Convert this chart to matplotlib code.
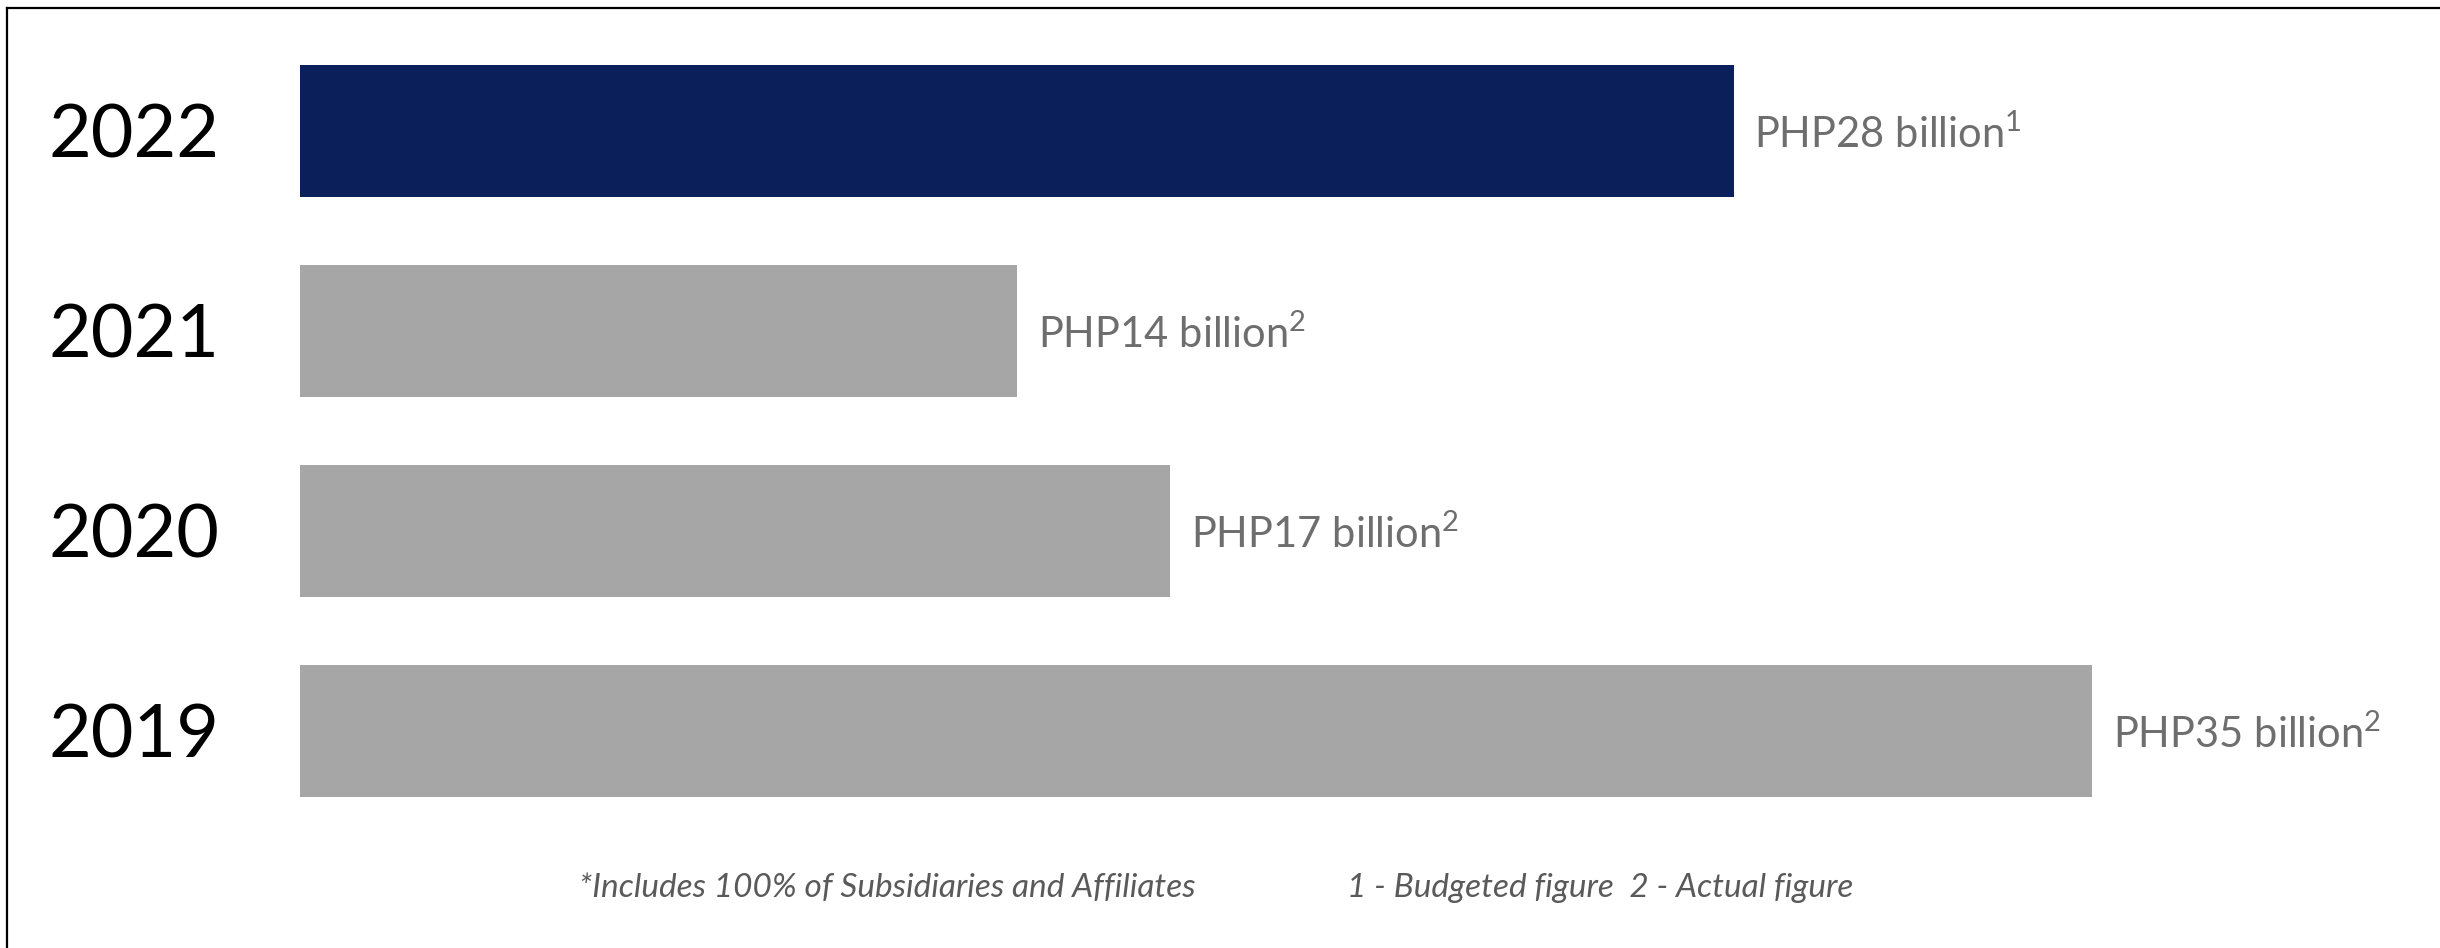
import matplotlib
matplotlib.use('Agg')
from matplotlib import pyplot as plt
from matplotlib.lines import Line2D

##### DATA #####
years = ['2019', '2020', '2021', '2022']
values = [35, 17, 14, 28]
notes = ['2', '2', '2', '1']
bar_colors = ['#a6a6a6', '#a6a6a6', '#a6a6a6', '#0b1f5a']
footnote_left = '*Includes 100% of Subsidiaries and Affiliates'
footnote_right = '1 - Budgeted figure  2 - Actual figure'
##### END DATA #####

plt.rcParams['font.family'] = ['Lato', 'DejaVu Sans']
plt.rcParams['mathtext.fontset'] = 'custom'
plt.rcParams['mathtext.rm'] = 'Lato'

W, H = 2440, 948
fig = plt.figure(figsize=(W / 100, H / 100), dpi=100)

# axes placed so x=0 sits at pixel 300 and one unit is ~51.2 px
ax = fig.add_axes([300 / W, (H - 831) / H, 40 * 51.2 / W, 800 / H])
pos = list(range(len(years)))
ax.barh(pos, values, height=0.66, color=bar_colors)
ax.set_xlim(0, 40)
ax.set_ylim(-0.5, 3.5)

for p, v, n in zip(pos, values, notes):
    ax.annotate('PHP%d billion$^{\\mathrm{%s}}$' % (v, n), xy=(v, p),
                xytext=(15, -2), textcoords='offset points',
                ha='left', va='center', fontsize=30, color='#6e6e6e')

ax.set_yticks(pos)
ax.set_yticklabels(years, fontsize=53, color='black')
ax.tick_params(axis='y', length=0, pad=58)
ax.set_xticks([])
for s in ax.spines.values():
    s.set_visible(False)

fy = 1 - 888 / H
fig.text(579 / W, fy, footnote_left, ha='left', va='center',
         fontsize=24, style='italic', color='#5a5a5a')
fig.text(1347 / W, fy, footnote_right, ha='left', va='center',
         fontsize=24, style='italic', color='#5a5a5a')

# frame only on top and left edges
fig.add_artist(Line2D([7 / W, 1], [1 - 8 / H, 1 - 8 / H], color='black', lw=1.6))
fig.add_artist(Line2D([7 / W, 7 / W], [0, 1 - 8 / H], color='black', lw=1.6))

fig.savefig('out.png', dpi=100)
